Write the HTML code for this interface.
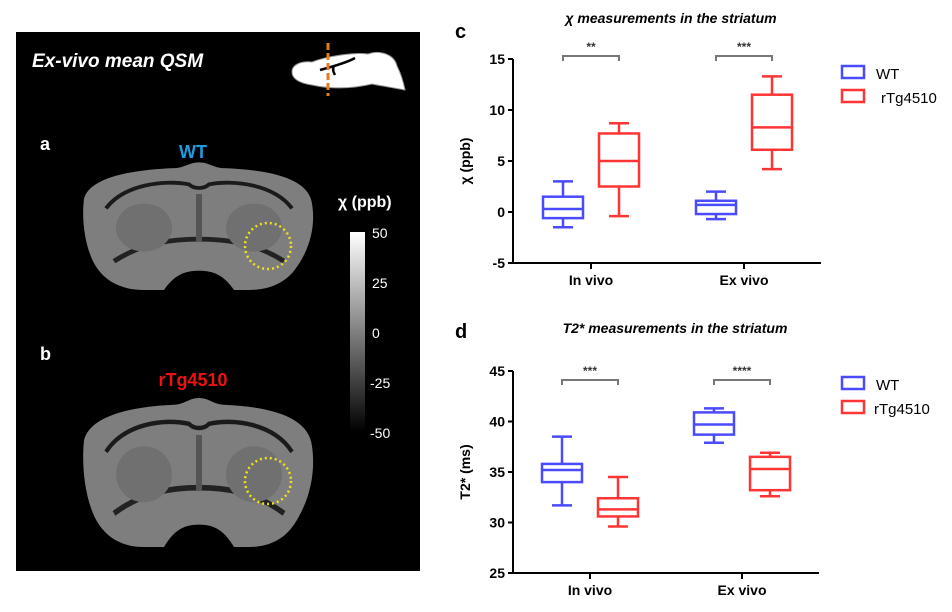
<!DOCTYPE html>
<html><head><meta charset="utf-8"><style>
html,body{margin:0;padding:0;background:#fff;}
svg{display:block;font-family:"Liberation Sans",Arial,sans-serif;}
</style></head><body>
<svg id="fig" width="952" height="612" viewBox="0 0 952 612">
<defs>
<linearGradient id="cb" x1="0" y1="0" x2="0" y2="1"><stop offset="0" stop-color="#fff"/><stop offset="1" stop-color="#000"/></linearGradient>
<g id="brain">
<path d="M0,30 C5,10 40,0 90,-2 C100,-2 105,-8 115,-8 C125,-8 130,-2 140,-2 C190,0 225,10 228,35 C232,60 225,85 210,105 C200,118 185,125 165,125 L150,125 C140,110 130,105 115,105 C100,105 90,110 80,125 L60,125 C40,125 25,118 15,105 C2,88 -3,55 0,30 Z" fill="#7e7e7e"/>
<path d="M22,40 C40,15 80,10 105,15 C110,20 120,20 125,15 C150,10 190,15 208,40" fill="none" stroke="#1a1a1a" stroke-width="4"/>
<path d="M30,95 C60,75 90,72 115,72 C140,72 170,75 200,95" fill="none" stroke="#222" stroke-width="5"/>
<ellipse cx="60" cy="60" rx="28" ry="25" fill="#707070"/>
<ellipse cx="170" cy="60" rx="28" ry="25" fill="#707070"/>
<rect x="112" y="25" width="6" height="50" fill="#555"/>
</g>
</defs>

<rect x="16" y="32" width="404" height="539" fill="#000"/>
<text x="32" y="67" fill="#fff" font-size="19" font-style="italic" font-weight="bold">Ex-vivo mean QSM</text>
<g>
<path d="M292,72 C292,64 302,61 312,62 C328,56 355,52 368,54 C380,50 394,54 397,66 C400,72 403,80 405,90 C395,88 382,86 372,84 C355,88 335,90 312,85 C298,83 292,78 292,72 Z" fill="#fff" stroke="#999" stroke-width="1"/>
<path d="M320,70 C335,66 348,62 355,58 M334,66 C332,70 334,73 335,75" stroke="#000" stroke-width="2.5" fill="none"/>
<line x1="328" y1="43" x2="328" y2="96" stroke="#e87a1e" stroke-width="3" stroke-dasharray="7,3"/>
</g>
<text x="40" y="150" fill="#fff" font-size="18" font-weight="bold">a</text>
<text x="193" y="158" fill="#1e9be0" font-size="18" font-weight="bold" text-anchor="middle">WT</text>
<use href="#brain" transform="translate(84,170) scale(1,0.96)"/>
<circle cx="268" cy="246" r="23" fill="none" stroke="#f0e020" stroke-width="2.5" stroke-dasharray="2,3"/>
<text x="40" y="360" fill="#fff" font-size="18" font-weight="bold">b</text>
<text x="193" y="386" fill="#ee1111" font-size="18" font-weight="bold" text-anchor="middle">rTg4510</text>
<use href="#brain" transform="translate(84,407) scale(1,1.12)"/>
<circle cx="268" cy="481" r="23" fill="none" stroke="#f0e020" stroke-width="2.5" stroke-dasharray="2,3"/>
<text x="338" y="207" fill="#fff" font-size="16" font-weight="bold">χ (ppb)</text>
<rect x="350" y="232" width="15" height="200" fill="url(#cb)"/>
<g fill="#fff" font-size="14">
<text x="372" y="238">50</text><text x="372" y="288">25</text><text x="372" y="338">0</text><text x="370" y="388">-25</text><text x="370" y="438">-50</text>
</g>

<g id="chartC"></g>
<g id="chartD"></g>
</svg>
<script>
const groups = ["In vivo","Ex vivo"];
const seriesNames = ["WT","rTg4510"];
// [min, q1, median, q3, max] per group
const chiWT = [[-1.5,-0.6,0.3,1.5,3.0],[-0.7,-0.2,0.7,1.1,2.0]];
const chiTg = [[-0.4,2.5,5.0,7.7,8.7],[4.2,6.1,8.3,11.5,13.3]];
const chiTicks = [-5,0,5,10,15];
const chiSig = ["**","***"];
const t2WT = [[31.7,34.0,35.2,35.8,38.5],[37.9,38.7,39.7,40.9,41.3]];
const t2Tg = [[29.6,30.6,31.3,32.4,34.5],[32.6,33.2,35.3,36.5,36.9]];
const t2Ticks = [25,30,35,40,45];
const t2Sig = ["***","****"];
const NS="http://www.w3.org/2000/svg";
function mk(p,tag,at,txt){const e=document.createElementNS(NS,tag);for(const k in at)e.setAttribute(k,at[k]);if(txt!=null)e.textContent=txt;p.appendChild(e);return e;}
function chart(g,o){
  const x0=513,x1=o.x1,yT=o.yTop,yB=o.yBot;
  const lo=o.ticks[0],hi=o.ticks[o.ticks.length-1];
  const y=v=>yB-(v-lo)/(hi-lo)*(yB-yT);
  const xc=i=>o.tx[i];
  const colors=["#4a4aff","#ff3535"];
  const pl=mk(g,"text",{x:455,y:o.letterY,"font-size":20,"font-weight":"bold"},o.letter);
  
  const t=mk(g,"text",{x:o.titleX,y:o.titleY,"font-size":14,"font-weight":"bold","font-style":"italic","text-anchor":"middle"},o.title);
  
  const ax=mk(g,"path",{d:`M${x0},${yT} V${yB} H${x1}`,stroke:"#000","stroke-width":2,fill:"none"});
  
  o.ticks.forEach(v=>{
    mk(g,"line",{x1:x0-5,x2:x0,y1:y(v),y2:y(v),stroke:"#000","stroke-width":2});
    const tl=mk(g,"text",{x:x0-8,y:y(v)+5,"font-size":14,"font-weight":"bold","text-anchor":"end"},v);
    
  });
  const yl=mk(g,"text",{transform:`translate(${o.ylX},${(yT+yB)/2}) rotate(-90)`,"font-size":14,"font-weight":"bold","text-anchor":"middle"},o.ylabel);
  
  groups.forEach((gname,i)=>{
    mk(g,"line",{x1:xc(i),x2:xc(i),y1:yB,y2:yB+6,stroke:"#000","stroke-width":2});
    const xl=mk(g,"text",{x:xc(i),y:yB+22,"font-size":14,"font-weight":"bold","text-anchor":"middle"},gname);
    
    [o.a,o.b].forEach((ser,s)=>{
      const d=ser[i],cx=xc(i)+(s?28:-28),w=20,c=colors[s];
      const bx=mk(g,"g",{stroke:c,"stroke-width":2.5,fill:"none"});
      
      
      mk(bx,"line",{x1:cx,x2:cx,y1:y(d[0]),y2:y(d[1])});
      mk(bx,"line",{x1:cx,x2:cx,y1:y(d[3]),y2:y(d[4])});
      mk(bx,"line",{x1:cx-10,x2:cx+10,y1:y(d[0]),y2:y(d[0])});
      mk(bx,"line",{x1:cx-10,x2:cx+10,y1:y(d[4]),y2:y(d[4])});
      mk(bx,"rect",{x:cx-w,y:y(d[3]),width:2*w,height:y(d[1])-y(d[3])});
      mk(bx,"line",{x1:cx-w,x2:cx+w,y1:y(d[2]),y2:y(d[2])});
    });
    const bxl=xc(i)-28,bxr=xc(i)+28,by=o.brY;
    const br=mk(g,"path",{d:`M${bxl},${by+5} V${by} H${bxr} V${by+5}`,stroke:"#777","stroke-width":2,fill:"none"});
    
    const st=mk(g,"text",{x:xc(i),y:by-5,"font-size":12,"font-weight":"bold","text-anchor":"middle",fill:"#333"},o.sig[i]);
    
  });
  seriesNames.forEach((n,s)=>{
    const ly=o.legY+s*24;
    const lr=mk(g,"rect",{x:842,y:ly-7,width:22,height:12,stroke:colors[s],"stroke-width":2.5,fill:"none"});
    
    const lt=mk(g,"text",{x:s?o.legTx2:876,y:ly+6,"font-size":15},n);
    
  });
}
chart(document.getElementById('chartC'),{x1:821,yTop:59,yBot:263,ticks:chiTicks,tx:[591,744],a:chiWT,b:chiTg,sig:chiSig,
  letter:"c",letterY:38,title:"χ measurements in the striatum",titleX:671,titleY:23,ylabel:"χ  (ppb)",ylX:470,brY:56,legY:73,legTx2:881});
chart(document.getElementById('chartD'),{x1:819,yTop:371,yBot:573,ticks:t2Ticks,tx:[590,742],a:t2WT,b:t2Tg,sig:t2Sig,
  letter:"d",letterY:338,title:"T2* measurements in the striatum",titleX:675,titleY:333,ylabel:"T2* (ms)",ylX:470,brY:380,legY:384,legTx2:874});
</script>
</body></html>
